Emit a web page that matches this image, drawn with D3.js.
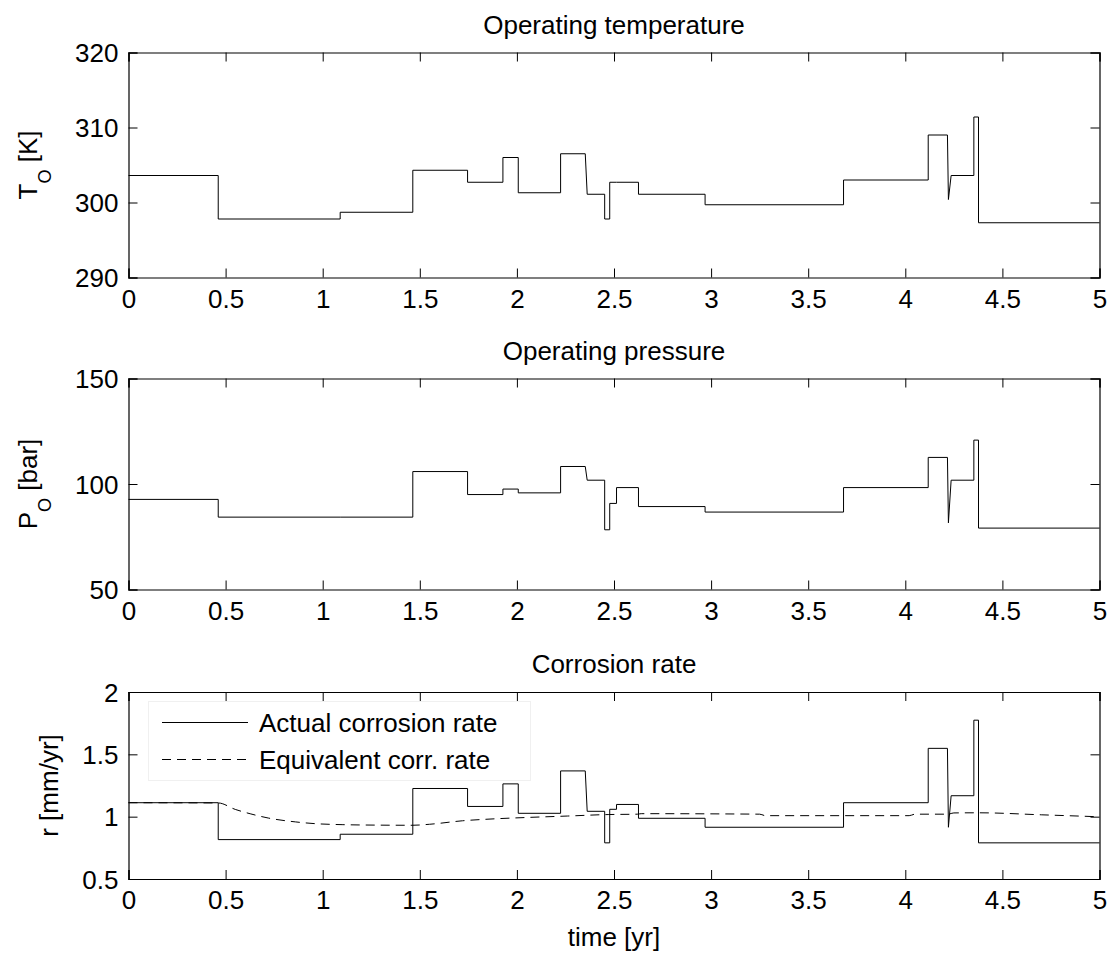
<!DOCTYPE html>
<html>
<head>
<meta charset="utf-8">
<script src="https://cdn.jsdelivr.net/npm/d3@7"></script>
<style>
  html, body { margin: 0; padding: 0; background: #fff; }
  svg { display: block; }
  text { font-family: "Liberation Sans", Arial, Helvetica, sans-serif; fill: #000; }
</style>
</head>
<body>
<svg id="chart" width="1111" height="956"></svg>
<script>
// ---------- DATA ----------
// piecewise-constant segments (start / end time in years)
const segStart = [0, 0.462, 1.09, 1.464, 1.746, 1.928, 2.007, 2.225, 2.362, 2.452, 2.478, 2.513, 2.626, 2.969, 3.682, 4.118, 4.222, 4.236, 4.353, 4.377];
const segEnd   = [0.462, 1.09, 1.464, 1.746, 1.928, 2.007, 2.225, 2.352, 2.452, 2.478, 2.513, 2.626, 2.969, 3.682, 4.118, 4.217, 4.222, 4.353, 4.377, 5];

const temperature = [303.6, 297.8, 298.7, 304.3, 302.7, 306.0, 301.3, 306.5, 301.1, 297.8, 302.7, 302.7, 301.1, 299.7, 303.0, 309.0, 300.4, 303.6, 311.4, 297.3];
const pressure    = [92.7, 84.3, 84.3, 105.9, 95.0, 97.6, 95.8, 108.3, 101.8, 78.3, 90.8, 98.3, 89.3, 86.7, 98.3, 112.6, 81.6, 101.8, 120.8, 79.1];
const corrRate    = [1.112, 0.816, 0.859, 1.226, 1.082, 1.263, 1.027, 1.367, 1.043, 0.79, 1.059, 1.098, 0.987, 0.915, 1.112, 1.548, 0.915, 1.168, 1.774, 0.79];

// equivalent corrosion rate (dashed)
const eqTime  = [0, 0.462, 0.55, 0.63, 0.72, 0.86, 0.96, 1.1, 1.3, 1.46, 1.55, 1.72, 1.89, 2.06, 2.26, 2.47, 2.62, 2.64, 3.25, 3.28, 4.02, 4.05, 4.22, 4.25, 4.38, 4.7, 5.0];
const eqValue = [1.112, 1.110, 1.058, 1.022, 0.989, 0.958, 0.944, 0.936, 0.932, 0.931, 0.939, 0.967, 0.983, 0.994, 1.005, 1.017, 1.020, 1.024, 1.020, 1.008, 1.008, 1.020, 1.020, 1.030, 1.031, 1.015, 0.999];

const xTicks = [0, 0.5, 1, 1.5, 2, 2.5, 3, 3.5, 4, 4.5, 5];
const tempTicks = [290, 300, 310, 320];
const presTicks = [50, 100, 150];
const rateTicks = [0.5, 1, 1.5, 2];

const titles = ["Operating temperature", "Operating pressure", "Corrosion rate"];
const legendLabels = ["Actual corrosion rate", "Equivalent corr. rate"];

// ---------- LAYOUT ----------
const svg = d3.select("#chart");
const L = 128.5, R = 1099.5;
const FS = 26;
const panels = [
  { top: 52.5, bottom: 277.5, domain: [290, 320], ticks: tempTicks, values: temperature, title: titles[0], ylab: ["T", "O", " [K]"], ylabX: 37 },
  { top: 378.5, bottom: 589.5, domain: [50, 150], ticks: presTicks, values: pressure, title: titles[1], ylab: ["P", "O", " [bar]"], ylabX: 37 },
  { top: 692, bottom: 879, domain: [0.5, 2], ticks: rateTicks, values: corrRate, title: titles[2], ylab: ["r [mm/yr]"], ylabX: 58 }
];

const x = d3.scaleLinear().domain([0, 5]).range([L, R]);
const tickLen = 9;

function stepPoints(values) {
  const pts = [];
  values.forEach((v, i) => {
    pts.push([segStart[i], v]);
    pts.push([segEnd[i], v]);
  });
  return pts;
}

panels.forEach((p, idx) => {
  const y = d3.scaleLinear().domain(p.domain).range([p.bottom, p.top]);
  const g = svg.append("g");

  // data line
  const line = d3.line().x(d => x(d[0])).y(d => y(d[1]));
  g.append("path")
    .datum(stepPoints(p.values))
    .attr("d", line)
    .attr("fill", "none")
    .attr("stroke", "#000")
    .attr("stroke-width", 1);

  if (idx === 2) {
    // legend (drawn beneath the curves, faint box)
    const lg = g.append("g");
    lg.append("rect")
      .attr("x", 148.5).attr("y", 701.5).attr("width", 382).attr("height", 79)
      .attr("fill", "#fff").attr("stroke", "#f0f0f0");
    const rows = [{ label: legendLabels[0], dash: null, yy: 722.5 }, { label: legendLabels[1], dash: "9,6", yy: 759.5 }];
    rows.forEach(r => {
      lg.append("line").attr("x1", 162).attr("x2", 248).attr("y1", r.yy).attr("y2", r.yy)
        .attr("stroke", "#000").attr("stroke-width", 1).attr("stroke-dasharray", r.dash);
      lg.append("text").attr("x", 259).attr("y", r.yy).attr("dy", "0.35em").attr("font-size", FS).text(r.label);
    });

    const eq = eqTime.map((t, i) => [t, eqValue[i]]);
    g.append("path")
      .datum(eq)
      .attr("d", d3.line().x(d => x(d[0])).y(d => y(d[1])).curve(d3.curveMonotoneX))
      .attr("fill", "none")
      .attr("stroke", "#000")
      .attr("stroke-width", 1)
      .attr("stroke-dasharray", "9,6");
    // keep the actual line above the dashed one
    g.select("path").raise();
  }

  // axes (ticks inward, box)
  const axB = d3.axisBottom(x).tickValues(xTicks).tickSize(-tickLen).tickPadding(12).tickFormat(d3.format("~g"));
  const axT = d3.axisTop(x).tickValues(xTicks).tickSize(-tickLen).tickFormat("");
  const axLf = d3.axisLeft(y).tickValues(p.ticks).tickSize(-tickLen).tickPadding(10).tickFormat(d3.format("~g"));
  const axRt = d3.axisRight(y).tickValues(p.ticks).tickSize(-tickLen).tickFormat("");

  const gb = g.append("g").attr("transform", `translate(0,${p.bottom})`).call(axB);
  const gt = g.append("g").attr("transform", `translate(0,${p.top})`).call(axT);
  const gl = g.append("g").attr("transform", `translate(${L},0)`).call(axLf);
  const gr = g.append("g").attr("transform", `translate(${R},0)`).call(axRt);
  [gb, gt, gl, gr].forEach(a => {
    a.selectAll(".domain").attr("stroke", "#000").attr("stroke-width", 1.2);
    a.selectAll(".tick line").attr("stroke", "#000").attr("stroke-width", 1);
    a.selectAll("text").attr("font-size", FS).attr("font-family", "Liberation Sans, Arial, sans-serif").attr("fill", "#000");
  });
  gl.selectAll("text").attr("dy", "0.35em");

  // title
  svg.append("text")
    .attr("x", (L + R) / 2)
    .attr("y", p.top - 19)
    .attr("text-anchor", "middle")
    .attr("font-size", FS)
    .text(p.title);

  // y label
  const cy = (p.top + p.bottom) / 2;
  const yl = svg.append("text")
    .attr("transform", `translate(${p.ylabX},${cy}) rotate(-90)`)
    .attr("text-anchor", "middle")
    .attr("font-size", FS);
  if (p.ylab.length === 3) {
    yl.append("tspan").text(p.ylab[0]);
    yl.append("tspan").attr("font-size", 18).attr("dy", 14).text(p.ylab[1]);
    yl.append("tspan").attr("dy", -14).text(p.ylab[2]);
  } else {
    yl.text(p.ylab[0]);
  }
});

// x-axis label
svg.append("text")
  .attr("x", (L + R) / 2)
  .attr("y", 946)
  .attr("text-anchor", "middle")
  .attr("font-size", FS)
  .text("time [yr]");
</script>
</body>
</html>
